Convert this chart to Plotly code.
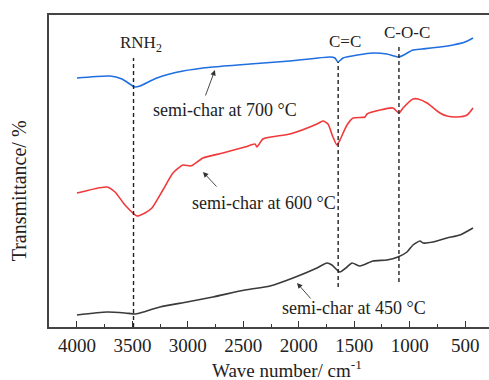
import plotly.graph_objects as go

# Wavenumbers (cm-1) and relative transmittance (arbitrary units)
wn_700 = [4000, 3702, 3594, 3477, 3432, 3279, 3044, 2774, 2440, 2079, 1719, 1674, 1647, 1601,
          1331, 1205, 1096, 970, 889, 727, 610, 501, 429]
t_700 = [249, 251, 248, 240, 241, 249, 256, 260, 263, 266, 270, 269, 265, 269,
         274, 273, 270, 277, 278, 280, 282, 285, 289]

wn_600 = [4000, 3729, 3657, 3567, 3459, 3387, 3324, 3225, 3134, 3044, 2981, 2954, 2864, 2684,
          2485, 2395, 2377, 2323, 2079, 1836, 1782, 1737, 1692, 1656, 1629, 1565, 1511, 1403,
          1385, 1268, 1151, 1096, 1060, 970, 925, 844, 727, 664, 574, 483, 429]
t_600 = [134, 140, 135, 122, 111, 114, 119, 137, 154, 162, 161, 162, 169, 174,
         180, 183, 180, 188, 193, 203, 206, 203, 190, 182, 187, 202, 209, 210,
         213, 217, 219, 214, 219, 228, 228, 224, 214, 211, 210, 212, 219]

wn_450 = [4000, 3729, 3567, 3477, 3432, 3252, 3008, 2774, 2485, 2260, 2052, 1836, 1746, 1701,
          1629, 1565, 1520, 1448, 1331, 1205, 1106, 1024, 970, 907, 880, 790, 664, 547, 429]
t_450 = [12, 15, 14, 13, 14, 20, 25, 30, 37, 41, 49, 59, 64, 62,
         55, 60, 64, 61, 66, 67, 70, 75, 82, 86, 84, 85, 89, 92, 99]

band_names = ["RNH<sub>2</sub>", "C=C", "C-O-C"]
band_wn = [3490, 1645, 1097]
band_lo = [0, 40, 45]
band_hi = [269, 265, 280]
band_label_x = [3423, 1583, 1024]
band_label_y = [283, 286, 295]

x_ticks = [4000, 3500, 3000, 2500, 2000, 1500, 1000, 500]

FONT = "Liberation Serif, Times New Roman, serif"

fig = go.Figure()
for wn, t, c in [(wn_700, t_700, "#1f6fe0"), (wn_600, t_600, "#f03a3a"), (wn_450, t_450, "#3a3a3a")]:
    fig.add_trace(go.Scatter(x=wn, y=t, mode="lines",
                             line=dict(color=c, width=1.6, shape="spline", smoothing=0.6),
                             showlegend=False, hoverinfo="skip"))

for w, lo, hi in zip(band_wn, band_lo, band_hi):
    fig.add_trace(go.Scatter(x=[w, w], y=[lo, hi], mode="lines",
                             line=dict(color="#222", width=1.4, dash="4px,3px"),
                             showlegend=False, hoverinfo="skip"))

for name, lx, ly in zip(band_names, band_label_x, band_label_y):
    fig.add_annotation(x=lx, y=ly, text=name, showarrow=False,
                       font=dict(family=FONT, size=17, color="#222"))

# curve labels with arrows
labels = [
    ("semi-char at 700 °C", 2665, 217, 2756, 257, 2846, 230),
    ("semi-char at 600 °C", 2314, 124, 2864, 155, 2729, 139),
    ("semi-char at 450 °C", 1502, 19, 2016, 44, 1881, 27),
]
for txt, tx, ty, hx, hy, ax, ay in labels:
    fig.add_annotation(x=tx, y=ty, text=txt, showarrow=False,
                       font=dict(family=FONT, size=18, color="#222"))
    fig.add_annotation(x=hx, y=hy, ax=ax, ay=ay, axref="x", ayref="y", text="",
                       showarrow=True, arrowhead=2, arrowsize=1.2, arrowwidth=0.9,
                       arrowcolor="#333", font=dict(family=FONT, size=12))

fig.add_annotation(xref="paper", yref="paper", x=0.541, y=-0.135, text="Wave number/ cm<sup>-1</sup>",
                   showarrow=False, yanchor="middle", font=dict(family=FONT, size=19, color="#222"))
fig.add_annotation(xref="paper", yref="paper", x=-0.068, y=0.435, text="Transmittance/ %",
                   textangle=-90, showarrow=False, xanchor="center", yanchor="middle",
                   font=dict(family=FONT, size=20, color="#222"))

fig.update_xaxes(range=[4252, 285], tickvals=x_ticks, ticks="inside", ticklen=6, tickwidth=1.3,
                 tickcolor="#333", showline=True, linecolor="#444", linewidth=2, mirror=True,
                 showgrid=False, zeroline=False,
                 minor=dict(dtick=250, tick0=0, ticks="inside", ticklen=3, tickwidth=1.2, tickcolor="#333"),
                 tickfont=dict(family=FONT, size=19, color="#222"))
fig.update_yaxes(range=[0, 312], showticklabels=False, ticks="", showline=True, linecolor="#444",
                 linewidth=2, showgrid=False, zeroline=False)

fig.update_layout(width=489, height=380, margin=dict(l=49, r=0, t=15, b=53),
                  plot_bgcolor="white", paper_bgcolor="white")

fig.write_html("out.html", config={"displayModeBar": False},
               post_script="document.body.style.margin='0';")
